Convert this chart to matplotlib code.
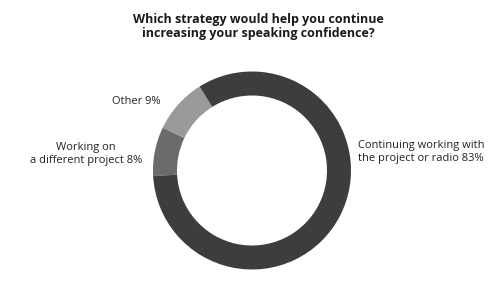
import matplotlib
matplotlib.use('Agg')
import matplotlib.pyplot as plt

# data
labels = ['Other', 'Working on\na different project', 'Continuing working with\nthe project or radio']
shares = [9, 8, 83]
colors = ['#9a9a9a', '#6b6b6b', '#3d3d3f']

plt.rcParams['font.family'] = ['Open Sans', 'DejaVu Sans']

fig = plt.figure(figsize=(5.03, 2.84), dpi=100)
ax = fig.add_axes([0, 0, 1, 1])

ax.pie(shares, colors=colors, startangle=122, counterclock=True,
       center=(252, 113.5), radius=99, frame=True,
       wedgeprops=dict(width=24, linewidth=0))
ax.set_xlim(0, 503)
ax.set_ylim(0, 284)
ax.axis('off')

# labels with values
pos = [(136, 284 - 102), (86, 284 - 154), (421, 284 - 152)]
spacing = [1.2, 1.3, 1.15]
for lab, v, (x, y), ls in zip(labels, shares, pos, spacing):
    ax.text(x, y, f'{lab} {v}%', ha='center', va='center', fontsize=8,
            color='#222222', linespacing=ls)

ax.text(258, 284 - 26, 'Which strategy would help you continue\nincreasing your speaking confidence?',
        ha='center', va='center', fontsize=9, fontweight='bold', color='#1a1a1a',
        linespacing=1.1)

fig.savefig('out.png', dpi=100)
